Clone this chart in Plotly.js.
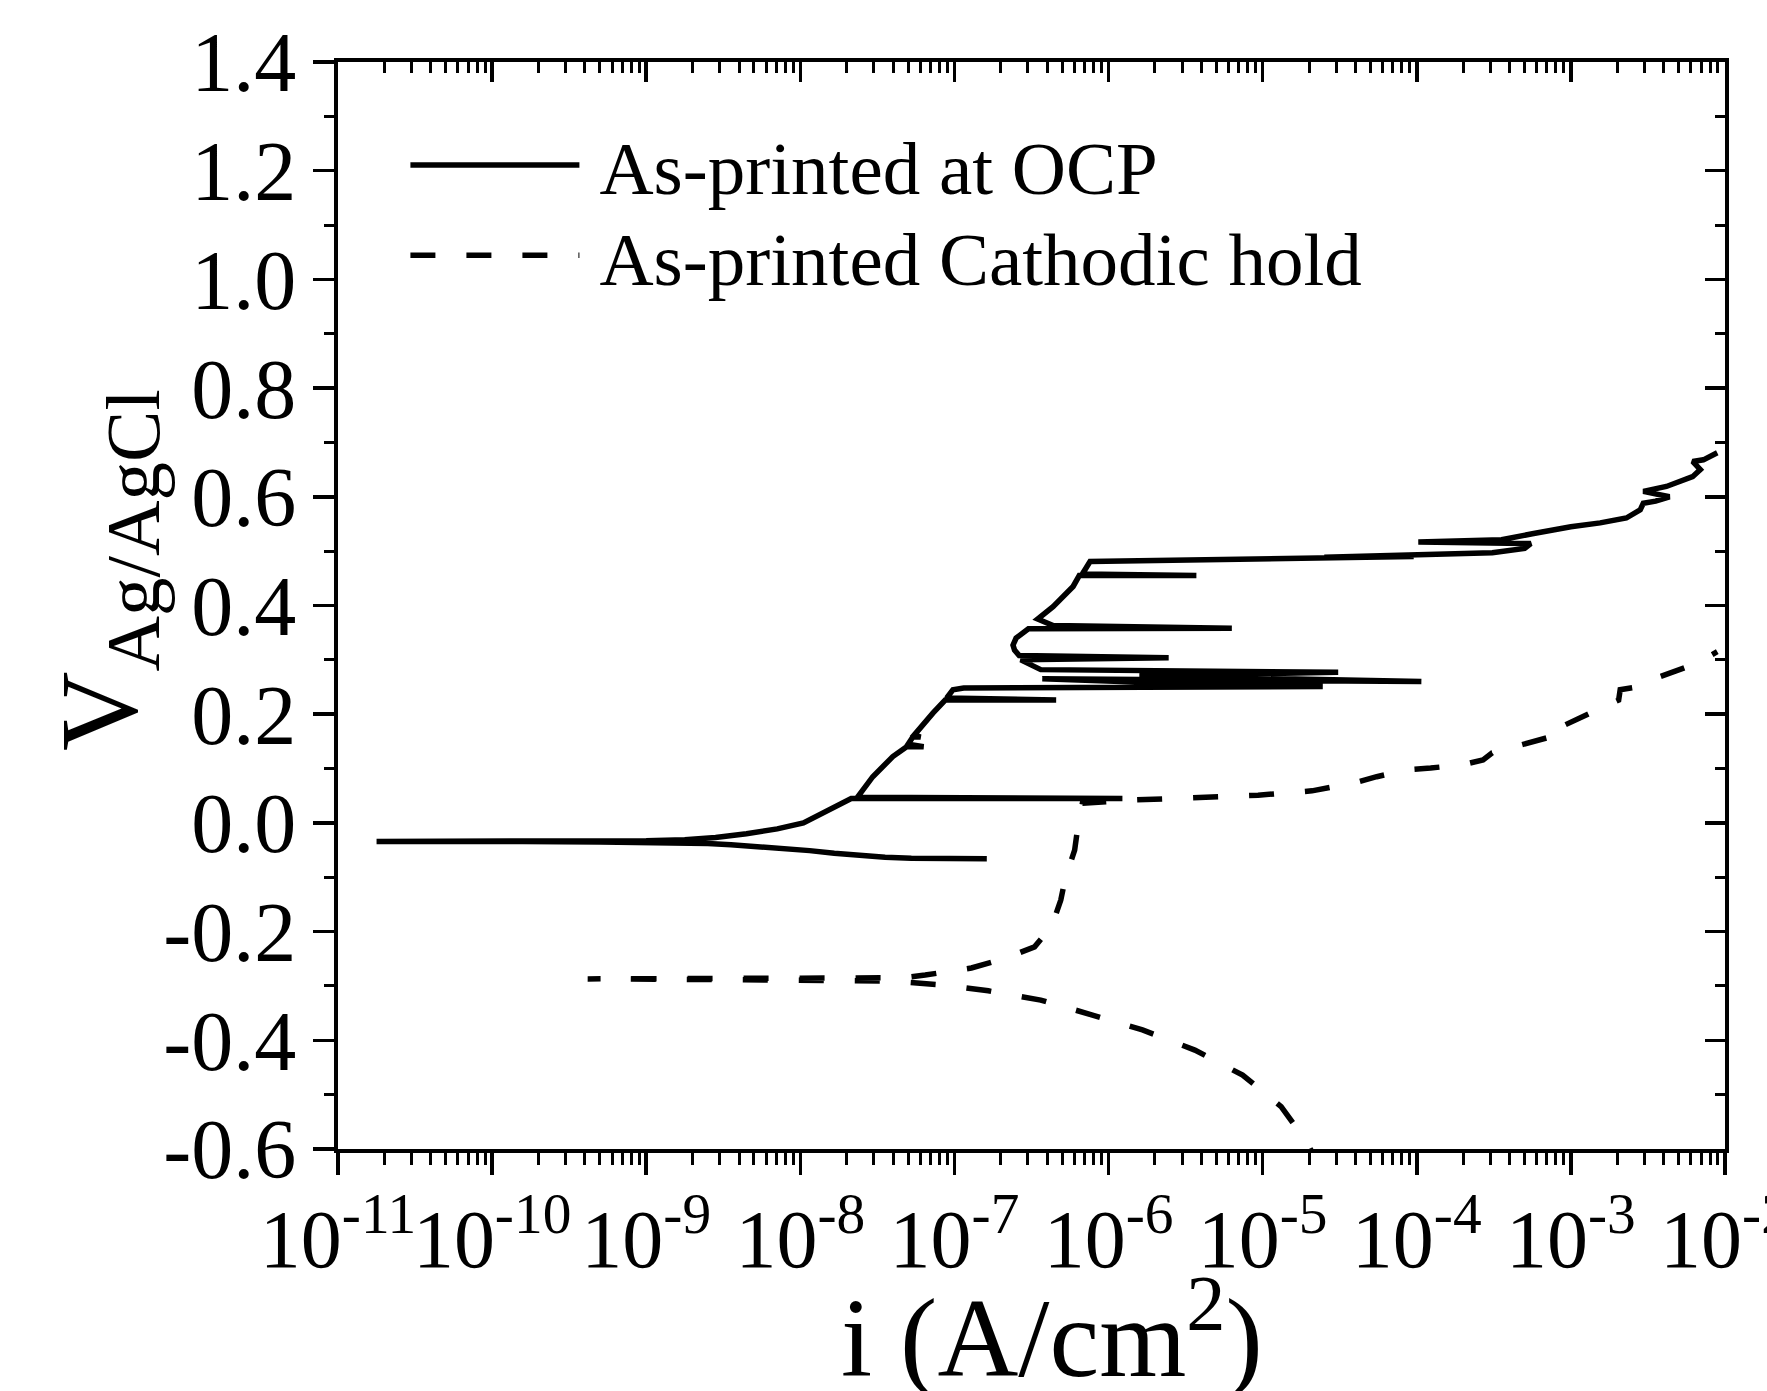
<!DOCTYPE html>
<html>
<head>
<meta charset="utf-8">
<script src="https://cdn.plot.ly/plotly-3.0.1.min.js"></script>
<style>
html, body { margin: 0; padding: 0; background: #ffffff; }
#chart { width: 1767px; height: 1391px; }
</style>
</head>
<body>
<div id="chart"></div>
<script>
// ---------- data (current as log10 of A/cm2, potential in V vs Ag/AgCl) ----------
const seriesNames = ["As-printed at OCP", "As-printed Cathodic hold"];

const ocpLogCurrent = [
  -6.79, -7.00, -7.28, -7.45, -7.61, -7.78, -7.94, -8.10, -8.27, -8.45, -8.60, -8.90, -9.30, -9.80, -10.30, -10.75,
  -10.20, -9.60, -9.00, -8.75, -8.55, -8.35, -8.15, -7.98, -7.87, -7.76, -7.67,
  -5.91, -7.63, -7.53, -7.40, -7.31, -7.20, -7.30, -7.27, -7.22, -7.26, -7.14, -7.06,
  -6.34, -7.05, -7.01, -6.94, -4.61, -5.50, -6.43, -3.97, -5.80, -4.51, -6.44,
  -6.57, -5.61, -6.58, -6.61, -6.62, -6.60, -6.52, -5.20, -6.36, -6.46, -6.36, -6.23, -6.19,
  -5.43, -6.17, -6.12, -5.50, -4.87, -4.40, -4.02, -4.60, -4.10, -3.75, -3.51, -3.30, -3.26, -3.99, -3.45,
  -3.25, -3.00, -2.81, -2.64, -2.55, -2.53, -2.45, -2.36, -2.53, -2.38, -2.21, -2.16, -2.21, -2.14, -2.05
];
const ocpPotential = [
  -0.066, -0.066, -0.065, -0.063, -0.060, -0.056, -0.051, -0.047, -0.043, -0.040, -0.038, -0.036, -0.035, -0.034, -0.034, -0.034,
  -0.034, -0.034, -0.033, -0.031, -0.027, -0.020, -0.011, 0.000, 0.015, 0.030, 0.045,
  0.045, 0.047, 0.085, 0.122, 0.140, 0.140, 0.145, 0.158, 0.158, 0.162, 0.202, 0.226,
  0.226, 0.230, 0.245, 0.248, 0.251, 0.256, 0.265, 0.260, 0.271, 0.277, 0.282,
  0.300, 0.304, 0.308, 0.318, 0.327, 0.340, 0.357, 0.358, 0.363, 0.375, 0.398, 0.435, 0.455,
  0.455, 0.458, 0.481, 0.483, 0.485, 0.488, 0.490, 0.489, 0.493, 0.494, 0.497, 0.505, 0.514, 0.517, 0.521,
  0.532, 0.545, 0.552, 0.561, 0.576, 0.588, 0.592, 0.600, 0.610, 0.619, 0.637, 0.650, 0.665, 0.668, 0.681
];

const holdLogCurrent = [
  -4.62, -4.71, -4.88, -5.13, -5.44, -5.78, -6.11, -6.44, -6.78, -7.08, -7.42, -8.00, -8.70, -9.38,
  -8.70, -8.00, -7.34, -7.19, -6.89, -6.67, -6.48, -6.37, -6.31, -6.28, -6.22, -6.20, -6.17,
  -5.85, -5.44, -5.03, -4.68, -4.40, -4.26, -4.06, -3.91, -3.70, -3.57, -3.51, -3.37, -3.17, -3.02,
  -3.04, -2.94, -2.81, -2.69, -2.68, -2.57, -2.48, -2.35, -2.18, -2.05
];
const holdPotential = [
  -0.640, -0.589, -0.522, -0.464, -0.418, -0.381, -0.353, -0.326, -0.309, -0.298, -0.291, -0.289, -0.288, -0.287,
  -0.287, -0.287, -0.285, -0.280, -0.267, -0.249, -0.228, -0.191, -0.142, -0.101, -0.050, -0.009, 0.036,
  0.042, 0.046, 0.051, 0.059, 0.074, 0.085, 0.098, 0.101, 0.107, 0.116, 0.129, 0.140, 0.156, 0.167,
  0.180, 0.193, 0.212, 0.226, 0.245, 0.250, 0.263, 0.276, 0.294, 0.315
];

const xTickExponents = [-11, -10, -9, -8, -7, -6, -5, -4, -3, -2];
const xTickLabels = ["10<sup>-11</sup>", "10<sup>-10</sup>", "10<sup>-9</sup>", "10<sup>-8</sup>", "10<sup>-7</sup>",
                     "10<sup>-6</sup>", "10<sup>-5</sup>", "10<sup>-4</sup>", "10<sup>-3</sup>", "10<sup>-2</sup>"];
const yTickValues = [-0.6, -0.4, -0.2, 0.0, 0.2, 0.4, 0.6, 0.8, 1.0, 1.2, 1.4];
const yTickLabels = ["-0.6", "-0.4", "-0.2", "0.0", "0.2", "0.4", "0.6", "0.8", "1.0", "1.2", "1.4"];
const xTitle = "i (A/cm<sup>2</sup>)";
const yTitle = "V<sub>Ag/AgCl</sub>";

// ---------- build ----------
const toCurrent = arr => arr.map(e => Math.pow(10, e));
const xTickVals = xTickExponents.map(e => Math.pow(10, e));
const FONT = "'Liberation Serif', 'Times New Roman', serif";
const GAP = "\u2009";

const traces = [
  {
    type: "scatter", mode: "lines", name: GAP + seriesNames[0], legend: "legend",
    x: toCurrent(ocpLogCurrent), y: ocpPotential,
    line: { color: "#000000", width: 5.5, dash: "solid" },
    hoverinfo: "skip"
  },
  {
    type: "scatter", mode: "lines", name: GAP + seriesNames[1], legend: "legend2",
    x: toCurrent(holdLogCurrent), y: holdPotential,
    line: { color: "#000000", width: 5.5, dash: "25px,31px" },
    hoverinfo: "skip"
  },
  { type: "scatter", mode: "lines", x: [], y: [], xaxis: "x2", yaxis: "y2", showlegend: false, hoverinfo: "skip" }
];

const xRange = [-11.0002, -1.9998];
const xCommon = {
  type: "log", range: xRange,
  tickmode: "array", tickvals: xTickVals,
  showgrid: false, zeroline: false,
  showline: true, linecolor: "#000000", linewidth: 4,
  tickcolor: "#000000", tickwidth: 3.5
};
const yCommon = {
  range: [-0.6, 1.4],
  tickmode: "array", tickvals: yTickValues,
  showgrid: false, zeroline: false,
  showline: true, linecolor: "#000000", linewidth: 4,
  tickcolor: "#000000", tickwidth: 3.5
};
const legendCommon = {
  xanchor: "left", yanchor: "top",
  bgcolor: "rgba(0,0,0,0)", borderwidth: 0,
  font: { family: FONT, size: 75, color: "#000000" },
  itemwidth: 169
};

const layout = {
  width: 1767, height: 1391,
  paper_bgcolor: "#ffffff", plot_bgcolor: "#ffffff",
  margin: { l: 338, r: 42, t: 62, b: 242, pad: 0 },
  font: { family: FONT, color: "#000000" },
  showlegend: true,
  legend: Object.assign({}, legendCommon, { x: 0.0486, y: 0.956 }),
  legend2: Object.assign({}, legendCommon, { x: 0.0486, y: 0.873 }),
  xaxis: Object.assign({}, xCommon, {
    ticktext: xTickLabels, ticks: "outside", ticklen: 22, tickangle: 0,
    tickfont: { family: FONT, size: 82, color: "#000000" },
    ticklabelstandoff: -6, ticklabeloverflow: "allow",
    minor: { ticks: "outside", ticklen: 12, tickwidth: 3, tickcolor: "#000000", dtick: "D1", showgrid: false }
  }),
  xaxis2: Object.assign({}, xCommon, {
    overlaying: "x", side: "top", anchor: "y",
    ticks: "inside", ticklen: 20, showticklabels: false,
    minor: { ticks: "inside", ticklen: 11, tickwidth: 3, tickcolor: "#000000", dtick: "D1", showgrid: false }
  }),
  yaxis: Object.assign({}, yCommon, {
    ticktext: yTickLabels, ticks: "outside", ticklen: 21,
    tickfont: { family: FONT, size: 84, color: "#000000" },
    ticklabelstandoff: 0, ticklabeloverflow: "allow",
    minor: { ticks: "outside", ticklen: 10, tickwidth: 3, tickcolor: "#000000", dtick: 0.1, showgrid: false }
  }),
  yaxis2: Object.assign({}, yCommon, {
    overlaying: "y", side: "right", anchor: "x",
    ticks: "inside", ticklen: 20, showticklabels: false,
    minor: { ticks: "inside", ticklen: 10, tickwidth: 3, tickcolor: "#000000", dtick: 0.1, showgrid: false }
  }),
  annotations: [
    {
      text: xTitle, xref: "paper", yref: "paper", x: 0.5145, y: -0.1664,
      xanchor: "center", yanchor: "middle", showarrow: false,
      font: { family: FONT, size: 112, color: "#000000" }
    },
    {
      text: yTitle, xref: "paper", yref: "paper", x: -0.167, y: 0.533,
      xanchor: "center", yanchor: "middle", showarrow: false, textangle: -90,
      font: { family: FONT, size: 110, color: "#000000" }
    }
  ]
};

Plotly.newPlot("chart", traces, layout, { staticPlot: true, displayModeBar: false });
</script>
</body>
</html>
